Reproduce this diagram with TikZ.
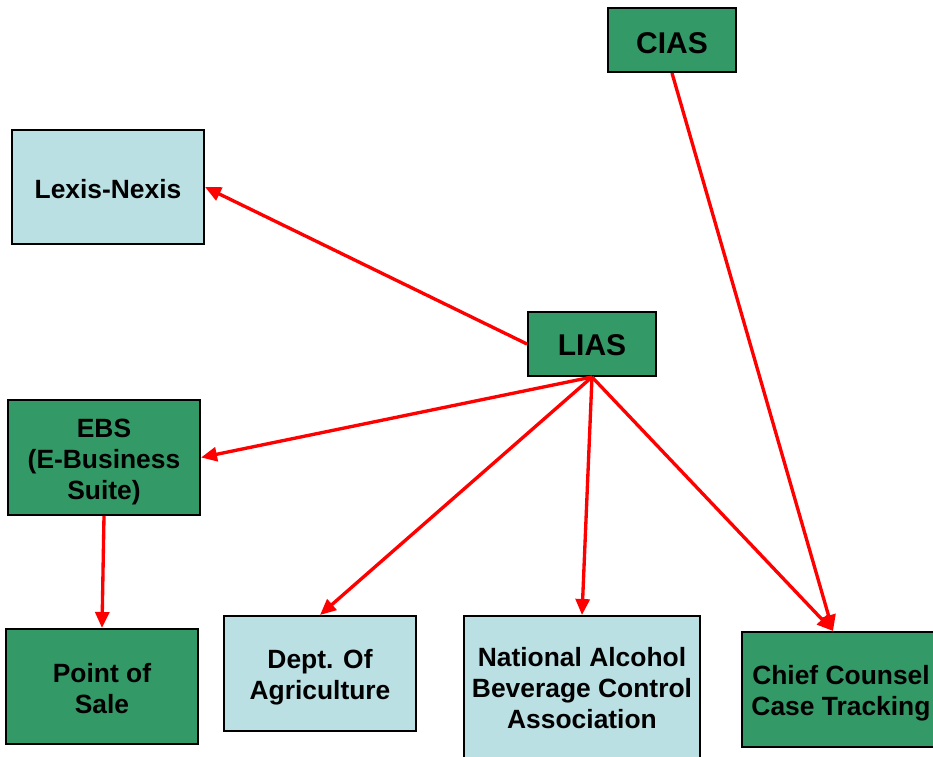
\documentclass[tikz,border=0pt]{standalone}
\usepackage{fontspec}
\setmainfont{Liberation Sans}
\usetikzlibrary{arrows.meta}
\definecolor{boxgreen}{HTML}{339966}
\definecolor{boxblue}{HTML}{BBE0E3}
\tikzset{
  base/.style={draw=black, line width=1.5pt, inner sep=0pt},
  gbox/.style={base, fill=boxgreen},
  bbox/.style={base, fill=boxblue},
  txt/.style={align=center, inner sep=0pt, font=\bfseries\fontsize{19.8pt}{23.25pt}\selectfont},
  bigtxt/.style={txt, font=\bfseries\fontsize{22.5pt}{26pt}\selectfont},
  link/.style={draw=red, line width=2.5pt, -{Triangle[length=12pt,width=10.5pt]}}
}
\begin{document}
\begin{tikzpicture}[x=0.75pt,y=-0.75pt]
\useasboundingbox (0,0) rectangle (933,757);
\clip (0,0) rectangle (933,757);
\node[gbox,minimum width=96pt,minimum height=48pt] (cias) at (672,40) {};
\node[bigtxt] (ciastext) at (672,43) {CIAS};
\node[bbox,minimum width=144pt,minimum height=85.5pt] (lexis) at (108,187) {};
\node[txt] (lexistext) at (108,189) {Lexis-Nexis};
\node[gbox,minimum width=96pt,minimum height=48pt] (lias) at (592,344) {};
\node[bigtxt] (liastext) at (592,345) {LIAS};
\node[gbox,minimum width=144pt,minimum height=86.25pt] (ebs) at (104,457.5) {};
\node[txt] (ebstext) at (104,462) {EBS\\(E-Business\\Suite)};
\node[gbox,minimum width=144pt,minimum height=86.25pt] (pos) at (102,686.5) {};
\node[txt] (postext) at (102,688.5) {Point of\\Sale};
\node[bbox,minimum width=144pt,minimum height=86.25pt] (dept) at (320,673.5) {};
\node[txt] (depttext) at (320,677) {Dept. Of\\Agriculture};
\node[bbox,minimum width=177pt,minimum height=126pt] (nabca) at (582,700) {};
\node[txt] (nabcatext) at (582,688) {National Alcohol\\Beverage Control\\Association};
\node[gbox,minimum width=148.5pt,minimum height=86.25pt] (chief) at (841,689.5) {};
\node[txt] (chieftext) at (841,693) {Chief Counsel\\Case Tracking};
\coordinate (chieftip) at ([xshift=-6pt]chief.north);
\draw[link] (lias.west) -- (lexis.east);
\draw[link] (lias.south) -- (ebs.east);
\draw[link] (lias.south) -- (dept.north);
\draw[link] (lias.south) -- (nabca.north);
\draw[link] (lias.south) -- (chieftip);
\draw[link] (cias.south) -- (chieftip);
\draw[link] (ebs.south) -- (pos.north);
\end{tikzpicture}
\end{document}
